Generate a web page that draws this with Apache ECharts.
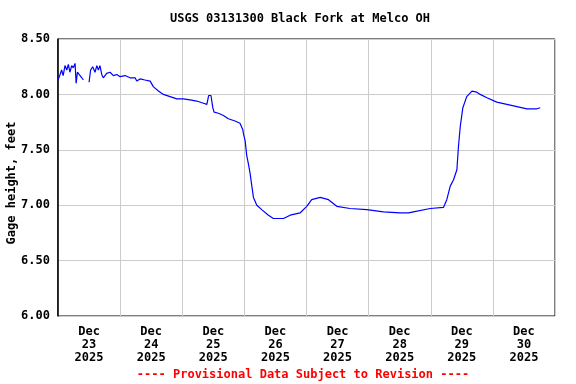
<!DOCTYPE html>
<html><head><meta charset="utf-8">
<script src="https://cdn.jsdelivr.net/npm/echarts@6/dist/echarts.min.js"></script>
<style>html,body{margin:0;padding:0;background:#fff}#c{width:576px;height:384px}</style>
</head><body><div id="c"></div>
<script>
// hours since 2025-12-23 00:00 (null = gap in record)
const hours = [0,0.8,1.4,2.0,2.7,3.4,4.0,4.6,5.3,5.9,6.6,7.0,7.5,8.2,9.2,9.8,10.9,
  12.0,12.6,13.4,14.3,15.0,15.6,16.2,16.9,17.5,18.8,20.1,21.4,22.7,24.0,25.9,27.8,29.8,30.4,31.7,33.6,35.6,
  36.8,38.8,40.7,43.3,45.9,48.4,51.0,53.6,56.2,57.5,58.2,59.1,59.8,60.3,62.0,63.9,65.8,68.4,70.3,71.4,71.6,72.3,
  72.9,73.5,74.2,74.9,75.5,76.8,78.7,81.3,83.2,87.1,89.7,93.5,96.1,98.0,101.3,104.5,107.7,112.8,119.3,125.7,
  132.2,135.4,137.3,143.8,148.9,150.2,151.5,152.8,154.1,154.7,155.4,156.4,157.9,159.9,161.8,163.1,165.7,169.5,
  173.4,177.3,181.1,185.0,186.3];
const gage = [8.13,8.18,8.22,8.17,8.26,8.22,8.27,8.20,8.26,8.24,8.28,8.10,8.20,8.19,8.15,8.13,null,
  8.11,8.22,8.25,8.20,8.26,8.22,8.26,8.18,8.15,8.19,8.20,8.17,8.18,8.16,8.17,8.15,8.15,8.12,8.14,8.13,8.12,
  8.07,8.03,8.00,7.98,7.96,7.96,7.95,7.94,7.92,7.91,7.99,7.99,7.88,7.84,7.83,7.81,7.78,7.76,7.74,7.68,7.65,7.58,
  7.45,7.38,7.29,7.17,7.07,7.00,6.96,6.91,6.88,6.88,6.91,6.93,6.99,7.05,7.07,7.05,6.99,6.97,6.96,6.94,
  6.93,6.93,6.94,6.97,6.98,7.05,7.17,7.23,7.32,7.53,7.71,7.88,7.98,8.03,8.02,8.00,7.97,7.93,
  7.91,7.89,7.87,7.87,7.88];
const dayLabels = ['Dec\n23\n2025','Dec\n24\n2025','Dec\n25\n2025','Dec\n26\n2025','Dec\n27\n2025','Dec\n28\n2025','Dec\n29\n2025','Dec\n30\n2025'];
const yTicks = [6.0, 8.5, 0.5];
const titleText = 'USGS 03131300 Black Fork at Melco OH';
const yName = 'Gage height, feet';
const footer = '---- Provisional Data Subject to Revision ----';

const font = '"DejaVu Sans Mono", monospace';
const chart = echarts.init(document.getElementById('c'), null, {renderer:'canvas'});
chart.setOption({
  animation:false,
  graphic:[
    {type:'text', x:300, y:13, style:{text:titleText, align:'center', verticalAlign:'top', fill:'#000', font:'bold 12px "DejaVu Sans Mono", monospace'}},
    {type:'text', x:303, y:369, style:{text:footer, align:'center', verticalAlign:'top', fill:'#ff0000', font:'bold 12px "DejaVu Sans Mono", monospace'}},
    {type:'text', rotation:Math.PI/2, x:6, y:183, style:{text:yName, fill:'#000', align:'center', verticalAlign:'top', font:'bold 12px "DejaVu Sans Mono", monospace'}}
  ],
  grid:{left:58, right:21, top:39, bottom:68, show:true, borderColor:'#000', borderWidth:1},
  xAxis:[
    {type:'value', min:0, max:192, show:false},
    {type:'category', data:dayLabels, boundaryGap:true, position:'bottom',
      axisLine:{show:false}, axisTick:{show:false},
      splitLine:{show:true, lineStyle:{color:'#cccccc', width:1}},
      axisLabel:{interval:0, margin:9, lineHeight:13, fontFamily:font, fontSize:12, fontWeight:'bold', color:'#000'}}
  ],
  yAxis:{type:'value', min:yTicks[0], max:yTicks[1], interval:yTicks[2],
    axisLine:{show:true, lineStyle:{color:'#000', width:1.5}}, axisTick:{show:false},
    splitLine:{show:true, lineStyle:{color:'#cccccc', width:1}},
    axisLabel:{margin:8, formatter:v=>v.toFixed(2), fontFamily:font, fontSize:12, fontWeight:'bold', color:'#000'}},
  series:[{type:'line', xAxisIndex:0, data:hours.map((h,i)=>[h,gage[i]]), showSymbol:false, connectNulls:false,
    lineStyle:{color:'#0000ff', width:1.2}}]
});
</script></body></html>
